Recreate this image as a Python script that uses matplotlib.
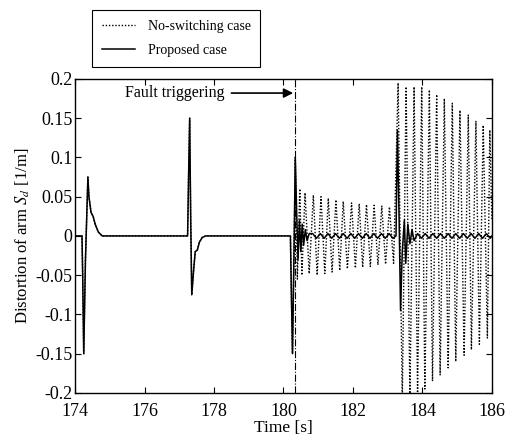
import matplotlib
matplotlib.use("Agg")
import matplotlib.pyplot as plt

plt.rcParams['font.family'] = ['Liberation Serif', 'DejaVu Serif']
plt.rcParams['mathtext.fontset'] = 'stix'

# common part of both cases (before the fault)
t_pre = [174.0, 174.20, 174.22, 174.25, 174.30, 174.37, 174.40, 174.46, 174.52,
         174.58, 174.67, 174.78, 177.24, 177.27, 177.30, 177.33, 177.36, 177.42,
         177.46, 177.52, 177.58, 177.66, 177.76, 180.20, 180.23, 180.26, 180.30,
         180.34]
v_pre = [0.0, 0.0, -0.05, -0.15, -0.03, 0.075, 0.05, 0.03, 0.025,
         0.015, 0.005, 0.0, 0.0, 0.08, 0.15, 0.02, -0.075, -0.04,
         -0.02, -0.018, -0.008, -0.002, 0.0, 0.0, -0.08, -0.15, -0.03,
         0.10]

# no-switching case after the fault
t_noswitch = [180.40, 180.47, 180.53, 180.62, 180.74, 180.86, 180.97, 181.08,
              181.19, 181.29, 181.40, 181.51, 181.62, 181.72, 181.84, 181.96,
              182.07, 182.18, 182.28, 182.39, 182.50, 182.61, 182.72, 182.83,
              182.94, 183.05, 183.17, 183.30, 183.42, 183.53, 183.64, 183.76,
              183.86, 183.98, 184.07, 184.20, 184.29, 184.41, 184.51, 184.63,
              184.74, 184.86, 184.96, 185.08, 185.20, 185.32, 185.41, 185.54,
              185.64, 185.75, 185.87, 185.94, 186.0]
v_noswitch = [-0.055, 0.06, -0.05, 0.055, -0.048, 0.052, -0.05, 0.05,
              -0.048, 0.048, -0.046, 0.046, -0.044, 0.044, -0.042, 0.042,
              -0.041, 0.041, -0.04, 0.04, -0.039, 0.039, -0.037, 0.038,
              -0.036, 0.037, -0.035, 0.195, -0.21, 0.19, -0.205, 0.19,
              -0.2, 0.19, -0.195, 0.186, -0.185, 0.18, -0.177, 0.175,
              -0.168, 0.169, -0.16, 0.16, -0.152, 0.154, -0.145, 0.146,
              -0.138, 0.141, -0.13, 0.135, 0.02]

# proposed case after the fault
t_proposed = [180.38, 180.42, 180.46, 180.50, 180.54, 180.58, 180.63, 180.68,
              180.74, 180.84, 180.95, 181.06, 181.17, 181.28, 181.39, 181.50,
              181.61, 181.72, 181.83, 181.94, 182.05, 182.16, 182.27, 182.38,
              182.49, 182.60, 182.71, 182.82, 182.93, 183.04, 183.15, 183.24,
              183.28, 183.33, 183.37, 183.42, 183.48, 183.52, 183.58, 183.64,
              183.70, 183.76, 183.86, 183.97, 184.08, 184.19, 184.30, 184.41,
              184.52, 184.63, 184.74, 184.85, 184.96, 185.07, 185.18, 185.29,
              185.40, 185.51, 185.62, 185.73, 185.84, 185.95, 186.0]
v_proposed = [0.03, -0.03, 0.02, -0.02, 0.015, -0.012, 0.008, -0.006,
              0.003, 0.003, -0.003, 0.003, -0.003, 0.003, -0.003, 0.003,
              -0.003, 0.003, -0.003, 0.003, -0.003, 0.003, -0.003, 0.003,
              -0.003, 0.003, -0.003, 0.003, -0.003, 0.003, -0.003, 0.0,
              0.135, 0.02, -0.095, -0.02, 0.02, -0.035, 0.015, -0.01,
              0.008, -0.006, 0.003, -0.003, 0.003, -0.003, 0.003, -0.003,
              0.003, -0.003, 0.003, -0.003, 0.003, -0.003, 0.003, -0.003,
              0.003, -0.003, 0.003, -0.003, 0.003, -0.003, 0.0]

fault_time = 180.33
xticks = [174, 176, 178, 180, 182, 184, 186]
yticks = [-0.2, -0.15, -0.1, -0.05, 0, 0.05, 0.1, 0.15, 0.2]
ytick_labels = ['-0.2', '-0.15', '-0.1', '-0.05', '0', '0.05', '0.1', '0.15', '0.2']

fig = plt.figure(figsize=(5.14, 4.41), dpi=100)
ax = fig.add_axes([0.146, 0.109, 0.811, 0.712])

ax.plot(t_pre + t_noswitch, v_pre + v_noswitch, color='black', lw=1.0,
        linestyle=(0, (1, 1.3)), label='No-switching case')
ax.plot(t_pre + t_proposed, v_pre + v_proposed, color='black', lw=1.1,
        label='Proposed case')
ax.axvline(fault_time, color='black', lw=0.8, linestyle='-.')

ax.annotate('Fault triggering', xy=(fault_time - 0.05, 0.182),
            xytext=(178.3, 0.182), ha='right', va='center', fontsize=11.5,
            arrowprops=dict(arrowstyle='-|>', color='black', lw=1.2,
                            mutation_scale=14, shrinkA=3, shrinkB=0))

ax.set_xlim(174, 186)
ax.set_ylim(-0.2, 0.2)
ax.set_xticks(xticks)
ax.set_yticks(yticks)
ax.set_yticklabels(ytick_labels)
ax.tick_params(direction='in', top=True, right=True, labelsize=13, length=4, pad=2)
ax.tick_params(axis='x', pad=7)
ax.set_xlabel('Time [s]', fontsize=12.5, labelpad=0)
ax.set_ylabel('Distortion of arm $S_d$ [1/m]', fontsize=12, labelpad=2)
for s in ax.spines.values():
    s.set_linewidth(1.0)

leg = fig.legend(loc='upper left', bbox_to_anchor=(0.179, 0.977), fontsize=10,
                 frameon=True, fancybox=False, edgecolor='black', framealpha=1,
                 handlelength=2.4, handletextpad=0.9, labelspacing=0.8,
                 borderpad=0.7, borderaxespad=0)
leg.get_frame().set_linewidth(0.8)

fig.savefig('out.png', dpi=100)
